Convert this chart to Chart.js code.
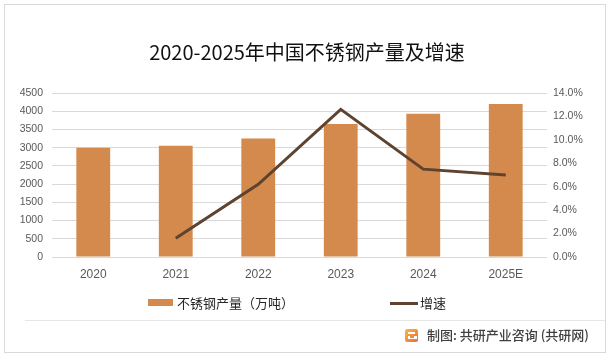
<!DOCTYPE html>
<html>
<head>
<meta charset="utf-8">
<script src="https://cdn.jsdelivr.net/npm/chart.js@4/dist/chart.umd.min.js"></script>
<style>
  html, body { margin: 0; padding: 0; background: #fff; }
  #wrap { position: relative; width: 614px; height: 358px; overflow: hidden; font-family: "Noto Sans CJK SC", "Noto Sans", sans-serif; }
  #frame { position: absolute; left: 4px; top: 4px; width: 600px; height: 347px; border: 1px solid #d9d9d9; box-sizing: content-box; }
  #sep { position: absolute; left: 25px; top: 320px; width: 580px; height: 1px; background: #e6e6e6; }
  #cv { position: absolute; left: 0; top: 0; }
  #legend { position: absolute; left: 0; top: 294px; width: 614px; height: 18px; font-size: 13px; color: #262626; }
  .lg { position: absolute; top: 0; height: 18px; line-height: 18px; white-space: nowrap; }
  .sw { position: absolute; }
  #footer { position: absolute; left: 427px; top: 326px; font-size: 13px; color: #404040; font-weight: 500; white-space: nowrap; line-height: 18px; }
  #logo { position: absolute; left: 405px; top: 329px; width: 13px; height: 13px; border-radius: 2px; background: linear-gradient(135deg, #f9b84b, #ef6a2c); }
  #logo::before { content: ""; position: absolute; left: 3px; top: 3px; width: 7px; height: 2px; background: #fff; }
  #logo::after { content: ""; position: absolute; left: 3px; top: 7px; width: 7px; height: 3px; border-left: 2px solid #fff; border-bottom: 0; background: transparent; box-shadow: inset -3px -1px 0 #fff; }
</style>
</head>
<body>
<div id="wrap">
  <div id="frame"></div>
  <canvas id="cv" width="614" height="358"></canvas>
  <div id="sep"></div>
  <div id="legend"></div>
  <div id="logo"></div>
  <div id="footer">制图: 共研产业咨询 (共研网)</div>
</div>
<script>
const titleText = "2020-2025年中国不锈钢产量及增速";
const categories = ["2020", "2021", "2022", "2023", "2024", "2025E"];
const productionLabel = "不锈钢产量（万吨）";
const production = [3000, 3050, 3250, 3650, 3930, 4200];
const growthLabel = "增速";
const growth = [null, 1.6, 6.2, 12.6, 7.5, 7.0];
const leftTicks = [0, 500, 1000, 1500, 2000, 2500, 3000, 3500, 4000, 4500];
const rightTicks = [0, 2, 4, 6, 8, 10, 12, 14];

const barColor = "#d48a4d";
const lineColor = "#5e4330";
const tickColor = "#595959";

const chart = new Chart(document.getElementById("cv"), {
  data: {
    labels: categories,
    datasets: [
      {
        type: "line",
        label: growthLabel,
        data: growth,
        yAxisID: "y1",
        borderColor: lineColor,
        backgroundColor: lineColor,
        borderWidth: 3,
        pointRadius: 0,
        tension: 0,
        order: 0
      },
      {
        type: "bar",
        label: productionLabel,
        data: production,
        yAxisID: "y",
        backgroundColor: barColor,
        borderWidth: 0,
        categoryPercentage: 1,
        barPercentage: 0.41,
        order: 1
      }
    ]
  },
  options: {
    responsive: false,
    animation: false,
    layout: { padding: { left: 0, right: 0, top: 0, bottom: 71 } },
    plugins: {
      legend: { display: false },
      tooltip: { enabled: false },
      title: {
        display: true,
        text: titleText,
        color: "#111",
        font: { family: "Noto Sans CJK SC", size: 20, weight: "normal", lineHeight: 1.2 },
        padding: { top: 40, bottom: 29 }
      }
    },
    scales: {
      x: {
        grid: { display: false, drawTicks: false },
        border: { display: false },
        ticks: { color: tickColor, font: { family: "Liberation Sans", size: 12 }, padding: 10, maxRotation: 0 },
        afterFit: s => { s.height = 30; }
      },
      y: {
        position: "left",
        min: 0, max: 4500,
        afterBuildTicks: s => { s.ticks = leftTicks.map(v => ({ value: v })); },
        grid: { color: "#d9d9d9", lineWidth: 1, drawTicks: false },
        border: { display: false },
        ticks: { color: tickColor, font: { family: "Liberation Sans", size: 10.5 }, padding: 9, callback: v => String(v) },
        afterFit: s => { s.width = 52; }
      },
      y1: {
        position: "right",
        min: 0, max: 14,
        afterBuildTicks: s => { s.ticks = rightTicks.map(v => ({ value: v })); },
        grid: { display: false, drawTicks: false },
        border: { display: false },
        ticks: { color: tickColor, font: { family: "Liberation Sans", size: 10.5 }, padding: 6, callback: v => Number(v).toFixed(1) + "%" },
        afterFit: s => { s.width = 67; }
      }
    }
  }
});

// HTML legend built from the chart's datasets
(function buildLegend() {
  const lg = document.getElementById("legend");
  const bar = chart.data.datasets[1];
  const line = chart.data.datasets[0];
  const items = [
    { ds: bar, x: 148, kind: "box" },
    { ds: line, x: 390, kind: "line" }
  ];
  items.forEach(it => {
    const sw = document.createElement("div");
    sw.className = "sw";
    if (it.kind === "box") {
      sw.style.cssText = `left:${it.x}px;top:5px;width:25px;height:7px;background:${it.ds.backgroundColor};`;
    } else {
      sw.style.cssText = `left:${it.x}px;top:8px;width:28px;height:3px;background:${it.ds.borderColor};`;
    }
    lg.appendChild(sw);
    const t = document.createElement("div");
    t.className = "lg";
    t.style.left = (it.x + (it.kind === "box" ? 29 : 30)) + "px";
    t.textContent = it.ds.label;
    lg.appendChild(t);
  });
})();
</script>
</body>
</html>
